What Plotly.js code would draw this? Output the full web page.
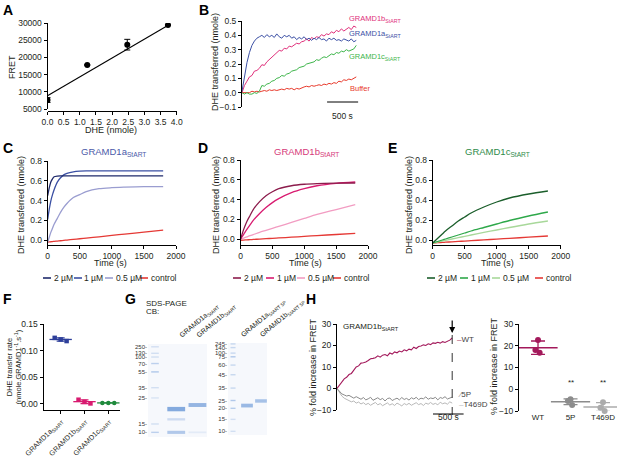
<!DOCTYPE html>
<html><head><meta charset="utf-8">
<script src="https://cdn.plot.ly/plotly-3.0.1.min.js"></script>
<style>html,body{margin:0;padding:0;background:#fff}#chart{width:617px;height:459px}</style>
</head><body><div id="chart"></div>
<script>
// ===== DATA =====
// Panel A
const aDHE = [0, 1.23, 2.47, 3.73];
const aFRET = [7600, 17800, 23700, 29400];
const aFRETerr = [700, 0, 1550, 0];
const aFitDHE = [0, 3.75];
const aFitFRET = [8870, 29400];

// Panel B
const bTime = [0,40,80,120,160,200,240,280,320,360,400,440,480,520,560,600,640,680,720,760,800,840,880,920,960,1000,1040,1080,1120,1160,1200,1240,1280,1320,1360,1400,1440,1480,1520,1560,1600,1640,1680,1720,1760,1800,1840];
const bGRAMD1a = [0.01,0.12,0.21,0.28,0.33,0.36,0.38,0.39,0.40,0.385,0.405,0.39,0.40,0.385,0.41,0.39,0.38,0.40,0.39,0.40,0.38,0.39,0.37,0.385,0.375,0.39,0.37,0.38,0.365,0.38,0.37,0.385,0.37,0.375,0.36,0.38,0.37,0.38,0.365,0.37,0.36,0.375,0.37,0.36,0.375,0.355,0.365];
const bGRAMD1b = [0.0,0.05,0.08,0.11,0.12,0.15,0.155,0.17,0.195,0.19,0.215,0.23,0.245,0.265,0.275,0.295,0.29,0.31,0.305,0.325,0.32,0.335,0.345,0.34,0.355,0.36,0.375,0.36,0.385,0.375,0.39,0.385,0.405,0.395,0.41,0.405,0.425,0.415,0.435,0.425,0.445,0.43,0.445,0.455,0.44,0.465,0.455];
const bGRAMD1c = [0.0,-0.01,0.0,-0.01,-0.01,0.0,-0.005,0.01,0.05,0.045,0.06,0.065,0.08,0.085,0.10,0.105,0.12,0.115,0.13,0.135,0.15,0.155,0.16,0.175,0.18,0.185,0.20,0.205,0.21,0.215,0.23,0.225,0.24,0.25,0.245,0.26,0.27,0.265,0.28,0.275,0.29,0.285,0.30,0.29,0.30,0.305,0.33];
const bBuffer = [0.0,0.0,0.005,0.0,0.01,0.005,0.01,0.005,0.01,0.015,0.01,0.02,0.015,0.02,0.015,0.02,0.025,0.02,0.03,0.025,0.03,0.02,0.03,0.025,0.035,0.04,0.045,0.04,0.05,0.045,0.05,0.055,0.05,0.06,0.055,0.065,0.06,0.07,0.065,0.08,0.075,0.09,0.085,0.095,0.09,0.10,0.11];

// Panel C (GRAMD1a)
const cTime = [0,25,50,75,100,150,200,250,300,400,500,600,800,1000,1200,1500,1800];
const c2uM = [0.45,0.53,0.59,0.62,0.64,0.648,0.65,0.65,0.65,0.65,0.65,0.65,0.65,0.65,0.65,0.65,0.65];
const c1uM = [0.21,0.315,0.40,0.46,0.51,0.586,0.63,0.66,0.675,0.69,0.697,0.70,0.70,0.70,0.70,0.70,0.70];
const c05uM = [-0.02,0.03,0.08,0.12,0.16,0.22,0.28,0.33,0.37,0.43,0.46,0.49,0.52,0.53,0.535,0.54,0.54];
const cControl = [-0.02,-0.018,-0.017,-0.015,-0.013,-0.01,-0.007,-0.003,0.0,0.007,0.013,0.02,0.033,0.047,0.06,0.08,0.10];

// Panel D (GRAMD1b)
const dTime = [0,50,100,150,200,300,400,500,600,800,1000,1200,1500,1800];
const d2uM = [0.0,0.1,0.18,0.24,0.3,0.38,0.44,0.48,0.51,0.54,0.555,0.562,0.566,0.568];
const d1uM = [0.0,0.05,0.1,0.145,0.19,0.26,0.32,0.37,0.41,0.47,0.51,0.54,0.565,0.578];
const d05uM = [0.0,0.012,0.024,0.036,0.047,0.07,0.09,0.11,0.13,0.17,0.21,0.25,0.30,0.35];
const dControl = [-0.01,-0.008,-0.006,-0.004,-0.002,0.002,0.006,0.009,0.013,0.021,0.029,0.037,0.048,0.06];

// Panel E (GRAMD1c)
const eTime = [0,50,100,150,200,300,400,500,600,800,1000,1200,1500,1800];
const e2uM = [-0.03,0.0,0.03,0.06,0.09,0.14,0.19,0.23,0.27,0.33,0.38,0.42,0.46,0.49];
const e1uM = [-0.03,-0.02,-0.01,0.0,0.01,0.03,0.05,0.07,0.09,0.125,0.16,0.195,0.24,0.28];
const e05uM = [-0.03,-0.023,-0.017,-0.01,-0.004,0.01,0.023,0.037,0.05,0.076,0.1,0.125,0.16,0.19];
const eControl = [-0.03,-0.028,-0.026,-0.024,-0.022,-0.018,-0.014,-0.011,-0.007,0.001,0.009,0.017,0.028,0.04];

const concLabels = ['2 µM', '1 µM', '0.5 µM', 'control'];

// Panel F
const fLabels = ['GRAMD1a<sub>StART</sub>', 'GRAMD1b<sub>StART</sub>', 'GRAMD1c<sub>StART</sub>'];
const fGRAMD1a = [0.124, 0.121, 0.118];
const fGRAMD1b = [0.008, 0.004, 0.001];
const fGRAMD1c = [0.002, 0.002, 0.002];

// Panel G (gel: relative mobility 0 = top of gel, 1 = bottom)
const g1LadderMW = ['250','130','100','70','55','35','25','15','10'];
const g1LadderMob = [0.03,0.10,0.14,0.21,0.30,0.47,0.58,0.86,0.95];
const g1LadderInt = [0.3,0.3,0.3,0.5,0.6,0.3,0.25,0.3,0.5];
const g1LaneNames = ['GRAMD1a<sub>StART</sub>', 'GRAMD1b<sub>StART</sub>'];
const g1BandLane = [1, 1, 1, 2, 2];
const g1BandMob = [0.70, 0.81, 0.95, 0.656, 0.95];
const g1BandInt = [1.0, 0.35, 0.6, 0.85, 0.15];
const g2LadderMW = ['245','140','100','75','60','45','35','25','20','15','10'];
const g2LadderMob = [0.01,0.05,0.11,0.15,0.24,0.345,0.49,0.625,0.71,0.83,0.96];
const g2LadderInt = [0.4,0.4,0.4,0.6,0.4,0.4,0.4,0.6,0.55,0.3,0.3];
const g2LaneNames = ['GRAMD1a<sub>StART 5P</sub>', 'GRAMD1b<sub>StART 5P</sub>'];
const g2BandLane = [1, 2];
const g2BandMob = [0.68, 0.63];
const g2BandInt = [0.8, 0.7];

// Panel H (left: time course)
const hTime = [0,40,80,120,160,200,240,280,320,360,400,440,480,520,560,600,640,680,720,760,800,840,880,920,960,1000,1040,1080,1120,1160,1200,1240,1280,1320,1360,1400,1440,1480,1520,1560,1600,1640,1680,1720,1760,1800,1840,1880,1920];
const hWT = [0,1.5,3,4.5,5.2,6.5,7,8.5,10,10.5,11.8,12,12.3,13,13.8,14,14.3,15.2,14.6,15.5,15.8,15.2,16.5,16,17,16.6,17.4,17,18,17.5,18.3,18,19.2,18.6,19.5,19.8,20.3,20,20.8,20.4,21.2,21,21.5,21.1,21.8,21.4,22,22.5,23.5];
const h5P = [0,-1.5,-2.5,-3,-3.5,-3.2,-4,-4.5,-3.8,-4.6,-5,-4.2,-5.3,-4.8,-4.1,-5.5,-4.9,-4.3,-5.2,-4.6,-5.8,-4.7,-4.4,-5.6,-5,-4.5,-5.3,-4.2,-5.1,-4.6,-5.4,-4.3,-4.9,-4.1,-5.2,-4.5,-4.8,-3.9,-5,-4.4,-4.7,-4.1,-5.3,-4.2,-4.6,-3.8,-4.9,-4.3,-4];
const hT469D = [0,-2,-3.5,-4.5,-5,-5.5,-6.2,-5.8,-6.8,-6.3,-7.2,-6.6,-7.5,-6.9,-7.8,-7.1,-6.5,-7.6,-7,-8,-7.3,-6.7,-7.7,-7.1,-7.9,-6.8,-7.4,-8.1,-7,-7.6,-6.9,-7.8,-7.2,-6.6,-7.5,-7,-7.9,-6.8,-7.3,-6.5,-7.4,-6.9,-7.6,-6.4,-7.1,-6.7,-7.3,-6.2,-6.8];
// Panel H (right: end-point values)
const hrLabels = ['WT', '5P', 'T469D'];
const hrWT = [22.6, 18.0, 16.8];
const hrP5 = [-4.6, -5.4, -7.2];
const hrT469D = [-6.0, -8.5, -10.0];

// ===== LAYOUT HELPERS =====
const W = 617, H = 459;
const px = v => v / W;
const py = v => 1 - v / H;
const FONT = 'Liberation Sans, Arial, sans-serif';
const TXT = '#231f20';
const TICK = 8.5, TITLE = 9;
const baseAxis = {
  showline: true, linecolor: '#000', linewidth: 1, mirror: false,
  ticks: 'outside', ticklen: 3, tickwidth: 1, tickcolor: '#000',
  showgrid: false, zeroline: false, fixedrange: true,
  tickfont: {size: TICK, color: TXT, family: FONT}
};
function xA(x0, x1, range, extra) { return Object.assign({}, baseAxis, {domain: [px(x0), px(x1)], range: range}, extra || {}); }
function yA(top, bottom, range, extra) { return Object.assign({}, baseAxis, {domain: [py(bottom), py(top)], range: range}, extra || {}); }
const hidden = {showline: false, ticks: '', showticklabels: false};

const mean = a => a.reduce((s, v) => s + v, 0) / a.length;
const sd = a => { const m = mean(a); return Math.sqrt(a.reduce((s, v) => s + (v - m) * (v - m), 0) / (a.length - 1)); };

const traces = [];
const annotations = [];
const shapes = [];
function ann(text, x, y, o) {
  annotations.push(Object.assign({text: text, xref: 'paper', yref: 'paper', x: px(x), y: py(y),
    showarrow: false, xanchor: 'center', yanchor: 'middle',
    font: {size: TITLE, color: TXT, family: FONT}}, o || {}));
}
function line(xs, ys, ax, color, width, shape) {
  traces.push({x: xs, y: ys, xaxis: 'x' + ax, yaxis: 'y' + ax, mode: 'lines',
    line: {color: color, width: width || 1, shape: shape || 'linear', smoothing: 0.8}, hoverinfo: 'skip'});
}

// ===== PANEL A =====
traces.push({x: aFitDHE, y: aFitFRET, xaxis: 'x', yaxis: 'y', mode: 'lines', line: {color: '#000', width: 1.1}});
traces.push({x: aDHE, y: aFRET, xaxis: 'x', yaxis: 'y', mode: 'markers',
  marker: {color: '#000', size: 6},
  error_y: {type: 'data', array: aFRETerr, color: '#000', thickness: 1, width: 3}});

// ===== PANEL B =====
const colB = {a: '#3c50a5', b: '#e0307b', c: '#3db54a', buf: '#e8392b'};
line(bTime, bBuffer, 2, colB.buf, 1);
line(bTime, bGRAMD1c, 2, colB.c, 1);
line(bTime, bGRAMD1b, 2, colB.b, 1);
line(bTime, bGRAMD1a, 2, colB.a, 1);

// ===== PANELS C, D, E =====
const colC = ['#1f2a6b', '#3a4fa3', '#9a9dd0', '#e53935'];
const colD = ['#8c1c4c', '#d81b70', '#f29cc2', '#e53935'];
const colE = ['#1b5e2b', '#2ea84a', '#a8d89a', '#e53935'];
[[cControl, 3], [c05uM, 2], [c1uM, 1], [c2uM, 0]].forEach(([d, i]) => line(cTime, d, 3, colC[i], 1.3, 'spline'));
[[dControl, 3], [d05uM, 2], [d1uM, 1], [d2uM, 0]].forEach(([d, i]) => line(dTime, d, 4, colD[i], 1.3, 'spline'));
[[eControl, 3], [e05uM, 2], [e1uM, 1], [e2uM, 0]].forEach(([d, i]) => line(eTime, d, 5, colE[i], 1.3, 'spline'));

// ===== PANEL F =====
const fSets = [[fGRAMD1a, '#2e3f9a', 'square'], [fGRAMD1b, '#d81b70', 'square'], [fGRAMD1c, '#1f8a3c', 'circle']];
const fOffsets = [-0.25, 0, 0.25];
fSets.forEach(([vals, col, sym], i) => {
  traces.push({x: [i], y: [mean(vals)], xaxis: 'x6', yaxis: 'y6', mode: 'markers',
    marker: {symbol: 'line-ew', size: 16, line: {color: col, width: 1.3}, color: col},
    error_y: {type: 'data', array: [sd(vals)], color: col, thickness: 1.2, width: 4}, cliponaxis: false});
  traces.push({x: vals.map((v, j) => i + fOffsets[j]), y: vals, xaxis: 'x6', yaxis: 'y6', mode: 'markers',
    marker: {symbol: sym, size: 4.5, color: col}, cliponaxis: false});
});

// ===== PANEL G =====
function bandColor(t) {
  const bg = [244, 246, 251], fg = [132, 170, 222];
  const c = bg.map((b, k) => Math.round(b + (fg[k] - b) * t));
  return 'rgb(' + c.join(',') + ')';
}
function gelBands(ax, ladderMob, ladderInt, laneArr, mobArr, intArr) {
  ladderMob.forEach((m, k) => traces.push({x: [-0.18, 0.18], y: [m, m], xaxis: 'x' + ax, yaxis: 'y' + ax,
    mode: 'lines', line: {color: bandColor(ladderInt[k]), width: 1.4}, hoverinfo: 'skip'}));
  laneArr.forEach((l, k) => traces.push({x: [l - 0.42, l + 0.42], y: [mobArr[k], mobArr[k]], xaxis: 'x' + ax, yaxis: 'y' + ax,
    mode: 'lines', line: {color: bandColor(intArr[k]), width: 1.2 + 3.2 * intArr[k]}, hoverinfo: 'skip'}));
}
gelBands(7, g1LadderMob, g1LadderInt, g1BandLane, g1BandMob, g1BandInt);
gelBands(8, g2LadderMob, g2LadderInt, g2BandLane, g2BandMob, g2BandInt);
['x7', 'x8'].forEach((xa, k) => shapes.push({type: 'rect', xref: xa + ' domain', yref: 'y' + (7 + k) + ' domain',
  x0: 0, x1: 1, y0: 0, y1: 1, fillcolor: '#f6f8fc', line: {width: 0}, layer: 'below'}));

// ===== PANEL H =====
const colH = {wt: '#a3195b', p5: '#8a8a8a', t: '#b8b8b8'};
line(hTime, hT469D, 9, colH.t, 1);
line(hTime, h5P, 9, colH.p5, 1);
line(hTime, hWT, 9, colH.wt, 1.1);
const hrSets = [[hrWT, colH.wt], [hrP5, '#8c8c8c'], [hrT469D, '#ababab']];
const hrOffsets = [0, -0.08, 0.05];
hrSets.forEach(([vals, col], i) => {
  traces.push({x: [i], y: [mean(vals)], xaxis: 'x10', yaxis: 'y10', mode: 'markers',
    marker: {symbol: 'line-ew', size: 28, line: {color: col, width: 1.5}, color: col},
    error_y: {type: 'data', array: [sd(vals)], color: col, thickness: 1.3, width: 7}, cliponaxis: false});
  traces.push({x: vals.map((v, j) => i + hrOffsets[j]), y: vals, xaxis: 'x10', yaxis: 'y10', mode: 'markers',
    marker: {symbol: 'circle', size: 6, color: col}, cliponaxis: false});
});

// ===== AXES =====
const gelTick = {size: 6, color: '#333', family: FONT};
const layout = {
  width: W, height: H, margin: {l: 0, r: 0, t: 0, b: 0}, showlegend: false,
  paper_bgcolor: '#fff', plot_bgcolor: 'rgba(0,0,0,0)', font: {family: FONT, size: 8, color: TXT},
  // A
  xaxis: xA(47.5, 176.7, [0, 4], {anchor: 'free', position: py(111), tickvals: [0,0.5,1,1.5,2,2.5,3,3.5,4], tickformat: '.1f'}),
  yaxis: yA(23, 109, [5000, 30000], {anchor: 'x', tickvals: [5000,10000,15000,20000,25000,30000], tickformat: 'd'}),
  // B
  xaxis2: xA(242, 360, [0, 1900], Object.assign({anchor: 'y2'}, hidden)),
  yaxis2: yA(21, 107, [-0.1, 0.5], {anchor: 'x2', tickvals: [-0.1,0,0.1,0.2,0.3,0.4,0.5], tickformat: '.1f'}),
  // C
  xaxis3: xA(47.7, 176, [0, 2000], {anchor: 'y3', tickvals: [0,500,1000,1500,2000]}),
  yaxis3: yA(161, 245, [-0.05, 0.8], {anchor: 'x3', tickvals: [0,0.2,0.4,0.6,0.8], tickformat: '.1f'}),
  // D
  xaxis4: xA(240.5, 368, [0, 2000], {anchor: 'y4', tickvals: [0,500,1000,1500,2000]}),
  yaxis4: yA(160, 245, [-0.058, 0.8], {anchor: 'x4', tickvals: [0,0.2,0.4,0.6,0.8], tickformat: '.1f'}),
  // E
  xaxis5: xA(432.7, 560.7, [0, 2000], {anchor: 'y5', tickvals: [0,500,1000,1500,2000]}),
  yaxis5: yA(160, 245, [-0.05, 0.8], {anchor: 'x5', tickvals: [0,0.2,0.4,0.6,0.8], tickformat: '.1f'}),
  // F
  xaxis6: xA(43.5, 120, [-0.72, 2.49], {anchor: 'y6', tickvals: [0,1,2], ticktext: fLabels, tickangle: -45, tickfont: {size: 7.2, color: TXT, family: FONT}}),
  yaxis6: yA(324, 410, [-0.0113, 0.15], {anchor: 'x6', tickvals: [0,0.05,0.1,0.15], tickformat: '.2f'}),
  // G
  xaxis7: xA(148, 207, [-0.33, 2.45], Object.assign({anchor: 'y7'}, hidden)),
  yaxis7: yA(344, 437, [1, 0], {anchor: 'x7', showline: false, ticks: '', tickvals: g1LadderMob, ticktext: g1LadderMW.map(s => s + '-'), tickfont: gelTick}),
  xaxis8: xA(228, 267, [-0.36, 2.43], Object.assign({anchor: 'y8'}, hidden)),
  yaxis8: yA(343, 435, [1, 0], {anchor: 'x8', showline: false, ticks: '', tickvals: g2LadderMob, ticktext: g2LadderMW.map(s => s + '-'), tickfont: gelTick}),
  // H
  xaxis9: xA(337, 466, [0, 2150], Object.assign({anchor: 'y9'}, hidden)),
  yaxis9: yA(324, 410, [-10, 30], {anchor: 'x9', tickvals: [-10,0,10,20,30]}),
  xaxis10: xA(519, 617, [-0.585, 2.43], {anchor: 'y10', showline: false, ticks: '', tickvals: [0,1,2], ticktext: hrLabels, tickfont: {size: 8, color: TXT, family: FONT}}),
  yaxis10: yA(324, 411, [-10, 30], {anchor: 'x10', tickvals: [-10,0,10,20,30]}),
  annotations: annotations, shapes: shapes
};

// ===== TEXT =====
const letter = {size: 14, color: '#000', family: FONT};
[['A', 1, 10], ['B', 197, 10], ['C', 1, 148], ['D', 196, 148], ['E', 386, 148], ['F', 1, 299], ['G', 123, 299], ['H', 304, 299]]
  .forEach(([t, x, y]) => ann('<b>' + t + '</b>', x, y, {xanchor: 'left', font: letter}));

// axis titles
ann('DHE (nmole)', 111, 130);
ann('FRET', 12, 67, {textangle: -90});
ann('DHE transferred (nmole)', 215, 62, {textangle: -90});
ann('DHE transferred (nmole)', 21, 205, {textangle: -90});
ann('DHE transferred (nmole)', 216, 205, {textangle: -90});
ann('DHE transferred (nmole)', 409, 205, {textangle: -90});
ann('Time (s)', 110, 263);
ann('Time (s)', 305, 263);
ann('Time (s)', 497, 263);
ann('DHE transfer rate<br>(nmole.GRAMD1<sup>-1</sup>.s<sup>-1</sup>)', 13.5, 367, {textangle: -90, font: {size: 7.5, color: TXT, family: FONT}});
ann('% fold increase in FRET', 313, 367, {textangle: -90});
ann('% fold increase in FRET', 494, 366, {textangle: -90});

// panel titles
ann('GRAMD1a<sub>StART</sub>', 113, 152, {font: {size: 9.5, color: '#4a5aa8', family: FONT}});
ann('GRAMD1b<sub>StART</sub>', 306, 152, {font: {size: 9.5, color: '#d63a7a', family: FONT}});
ann('GRAMD1c<sub>StART</sub>', 497, 152, {font: {size: 9.5, color: '#2e8b4a', family: FONT}});

// B labels and scale bar
const smallF = c => ({size: 7.5, color: c, family: FONT});
ann('GRAMD1b<sub>StART</sub>', 347, 19, {xanchor: 'left', font: smallF(colB.b)});
ann('GRAMD1a<sub>StART</sub>', 347, 34, {xanchor: 'left', font: smallF(colB.a)});
ann('GRAMD1c<sub>StART</sub>', 347, 57, {xanchor: 'left', font: smallF(colB.c)});
ann('Buffer', 348, 88, {xanchor: 'left', font: smallF(colB.buf)});
shapes.push({type: 'line', xref: 'x2', yref: 'paper', x0: 1370, x1: 1870, y0: py(102), y1: py(102), line: {color: '#000', width: 1}});
annotations.push({text: '500 s', xref: 'x2', yref: 'paper', x: 1620, y: py(109), showarrow: false, font: {size: TICK, color: TXT, family: FONT}});

// C/D/E legends: coloured line segment + label
function legend(cols, starts) {
  starts.forEach((x0, i) => {
    shapes.push({type: 'line', xref: 'paper', yref: 'paper', x0: px(x0), x1: px(x0 + 8), y0: py(278), y1: py(278),
      line: {color: cols[i], width: 1.6}});
    ann(concLabels[i], x0 + 8.5, 278, {xanchor: 'left', font: {size: TICK, color: TXT, family: FONT}});
  });
}
legend(colC, [43, 74, 105, 140]);
legend(colD, [233, 266, 297, 333]);
legend(colE, [427, 460, 492, 535]);

// G labels
ann('SDS-PAGE', 144, 303, {xanchor: 'left', font: {size: 8, color: TXT, family: FONT}});
ann('CB:', 144, 311, {xanchor: 'left', font: {size: 8, color: TXT, family: FONT}});
const gelLab = {size: 7, color: TXT, family: FONT};
[[g1LaneNames[0], 175], [g1LaneNames[1], 192], [g2LaneNames[0], 237], [g2LaneNames[1], 256]].forEach(([t, x]) =>
  ann(t, x, 342, {xanchor: 'left', yanchor: 'bottom', textangle: -40, font: gelLab}));

// H labels
ann('GRAMD1b<sub>StART</sub>', 341, 327, {xanchor: 'left', font: {size: 8, color: TXT, family: FONT}});
const hLab = {size: 8, color: '#444', family: FONT};
ann('<span style="color:' + colH.wt + '">–</span>WT', 455, 339, {xanchor: 'left', font: hLab});
ann('<span style="color:' + colH.p5 + '">⁄</span>5P', 456, 394, {xanchor: 'left', font: hLab});
ann('<span style="color:' + colH.t + '">–</span>T469D', 457, 404, {xanchor: 'left', font: hLab});
shapes.push({type: 'line', xref: 'x9', yref: 'paper', x0: 1920, x1: 1920, y0: py(335), y1: py(415), line: {color: '#333', width: 1, dash: 'dash'}});
annotations.push({text: '', xref: 'x9', yref: 'paper', x: 1920, y: py(333), ax: 0, ay: -14, showarrow: true,
  arrowhead: 2, arrowsize: 1, arrowwidth: 1.2, arrowcolor: '#000'});
shapes.push({type: 'line', xref: 'x9', yref: 'paper', x0: 1600, x1: 2110, y0: py(414), y1: py(414), line: {color: '#000', width: 1}});
annotations.push({text: '500 s', xref: 'x9', yref: 'paper', x: 1855, y: py(424), showarrow: false, font: {size: TICK, color: TXT, family: FONT}});
// significance
annotations.push({text: '**', xref: 'x10', yref: 'y10', x: 1, y: 3.2, showarrow: false, font: {size: 8, color: TXT, family: FONT}});
annotations.push({text: '**', xref: 'x10', yref: 'y10', x: 2, y: 3.2, showarrow: false, font: {size: 8, color: TXT, family: FONT}});

Plotly.newPlot('chart', traces, layout, {staticPlot: true, displayModeBar: false});
</script>
</body></html>
